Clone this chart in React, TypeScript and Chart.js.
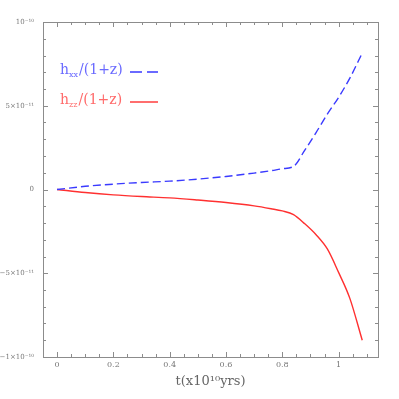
import React, { useEffect, useRef } from "react";
import { Chart, registerables } from "chart.js";

Chart.register(...registerables);

const tValues = [0, 0.1, 0.2, 0.3, 0.4, 0.5, 0.6, 0.7, 0.76, 0.8, 0.84, 0.88, 0.92, 0.96, 1.0, 1.04, 1.084];
const hxxValues = [0, 1.9e-12, 3.2e-12, 4.2e-12, 5.0e-12, 6.2e-12, 7.8e-12, 9.8e-12, 1.12e-11, 1.24e-11, 1.38e-11, 2.35e-11, 3.4e-11, 4.5e-11, 5.5e-11, 6.65e-11, 8.15e-11];
const hzzValues = [0, -1.8e-12, -3.2e-12, -4.2e-12, -5.0e-12, -6.3e-12, -7.8e-12, -9.8e-12, -1.15e-11, -1.28e-11, -1.5e-11, -2.05e-11, -2.7e-11, -3.55e-11, -4.95e-11, -6.5e-11, -9.0e-11];

const xTickLabels: Record<number, string> = { 0: "0", 4: "0.2", 8: "0.4", 12: "0.6", 16: "0.8", 20: "1" };
const yTickLabels: Record<number, string> = { 10: "10\u207B\u00B9\u2070", 5: "5\u00D710\u207B\u00B9\u00B9", 0: "0", [-5]: "\u22125\u00D710\u207B\u00B9\u00B9", [-10]: "\u22121\u00D710\u207B\u00B9\u2070" };

const legendEntries = [
  { sub: "xx", color: "#6a6aff", lineColor: "#3a3aff", dash: [12, 5] },
  { sub: "zz", color: "#ff6a6a", lineColor: "#ff3030", dash: [] as number[] },
];

const axisTitle = "t(x10\u00B9\u2070yrs)";

const boxPlugin = {
  id: "boxTicks",
  afterDatasetsDraw(chart: any) {
    const { ctx, chartArea, scales } = chart;
    const { left, right, top, bottom } = chartArea;
    ctx.save();
    ctx.strokeStyle = "#8c8c8c";
    ctx.lineWidth = 1;
    ctx.strokeRect(left + 0.5, top + 0.5, right - left, bottom - top);
    ctx.beginPath();
    for (const t of scales.x.ticks) {
      const idx = Math.round(t.value / 0.05);
      const major = idx % 4 === 0;
      const len = major ? 5 : 3;
      const px = Math.round(scales.x.getPixelForValue(t.value)) + 0.5;
      ctx.moveTo(px, bottom);
      ctx.lineTo(px, bottom - len);
      ctx.moveTo(px, top);
      ctx.lineTo(px, top + len);
    }
    for (const t of scales.y.ticks) {
      const idx = Math.round(t.value / 1e-11);
      const major = idx % 5 === 0;
      const len = major ? 5 : 3;
      const py = Math.round(scales.y.getPixelForValue(t.value)) + 0.5;
      ctx.moveTo(left, py);
      ctx.lineTo(left + len, py);
      ctx.moveTo(right, py);
      ctx.lineTo(right - len, py);
    }
    ctx.stroke();

    // legend
    const lx = 60;
    const baselines = [74, 104];
    legendEntries.forEach((e, i) => {
      const y = baselines[i];
      ctx.fillStyle = e.color;
      ctx.textBaseline = "alphabetic";
      ctx.textAlign = "left";
      ctx.font = "14px 'DejaVu Serif'";
      ctx.fillText("h", lx, y);
      let x = lx + ctx.measureText("h").width;
      ctx.font = "8px 'DejaVu Serif'";
      ctx.fillText(e.sub, x, y + 3);
      x += ctx.measureText(e.sub).width + 1;
      ctx.font = "14px 'DejaVu Serif'";
      ctx.fillText("/(1+z)", x, y);
      ctx.beginPath();
      ctx.strokeStyle = e.lineColor;
      ctx.lineWidth = 1.4;
      ctx.setLineDash(e.dash);
      ctx.moveTo(130, y - 2);
      ctx.lineTo(158, y - 2);
      ctx.stroke();
      ctx.setLineDash([]);
    });
    ctx.restore();
  },
};

export default function App() {
  const ref = useRef<HTMLCanvasElement>(null);
  useEffect(() => {
    document.body.style.margin = "0";
    const chart = new Chart(ref.current!, {
      type: "line",
      data: {
        datasets: [
          {
            label: "hxx/(1+z)",
            data: tValues.map((t, i) => ({ x: t, y: hxxValues[i] })),
            borderColor: "#3a3aff",
            borderWidth: 1.4,
            borderDash: [8, 4],
            pointRadius: 0,
            cubicInterpolationMode: "monotone",
          },
          {
            label: "hzz/(1+z)",
            data: tValues.map((t, i) => ({ x: t, y: hzzValues[i] })),
            borderColor: "#ff3030",
            borderWidth: 1.4,
            pointRadius: 0,
            cubicInterpolationMode: "monotone",
          },
        ],
      },
      options: {
        animation: false,
        responsive: false,
        maintainAspectRatio: false,
        layout: { padding: { top: 22, right: 21, left: 0, bottom: 0 } },
        plugins: { legend: { display: false }, tooltip: { enabled: false } },
        scales: {
          x: {
            type: "linear",
            min: -0.05,
            max: 1.14,
            grid: { display: false, drawTicks: false, tickLength: 0 },
            border: { display: false },
            afterFit: (s: any) => {
              s.height = 42;
            },
            afterBuildTicks: (s: any) => {
              const ticks = [];
              for (let i = -1; i <= 22; i++) ticks.push({ value: i * 0.05 });
              s.ticks = ticks;
            },
            ticks: {
              autoSkip: false,
              maxRotation: 0,
              padding: 3,
              color: "#777",
              font: { family: "'DejaVu Serif'", size: 8 },
              callback: (v: any) => {
                const idx = Math.round(Number(v) / 0.05);
                return xTickLabels[idx] ?? "";
              },
            },
            title: {
              display: true,
              text: axisTitle,
              color: "#666",
              font: { family: "'DejaVu Serif'", size: 13 },
              padding: { top: 0, bottom: 10 },
            },
          },
          y: {
            type: "linear",
            min: -1e-10,
            max: 1e-10,
            grid: { display: false, drawTicks: false, tickLength: 0 },
            border: { display: false },
            afterFit: (s: any) => {
              s.width = 43;
            },
            afterBuildTicks: (s: any) => {
              const ticks = [];
              for (let i = -10; i <= 10; i++) ticks.push({ value: i * 1e-11 });
              s.ticks = ticks;
            },
            ticks: {
              autoSkip: false,
              padding: 9,
              color: "#777",
              font: { family: "'DejaVu Serif'", size: 7 },
              callback: (v: any) => {
                const idx = Math.round(Number(v) / 1e-11);
                return yTickLabels[idx] ?? "";
              },
            },
          },
        },
      },
      plugins: [boxPlugin],
    } as any);
    return () => chart.destroy();
  }, []);
  return (
    <div style={{ position: "absolute", left: 0, top: 0, width: 399, height: 399, background: "#fff" }}>
      <canvas ref={ref} width={399} height={399} style={{ width: 399, height: 399 }} />
    </div>
  );
}
